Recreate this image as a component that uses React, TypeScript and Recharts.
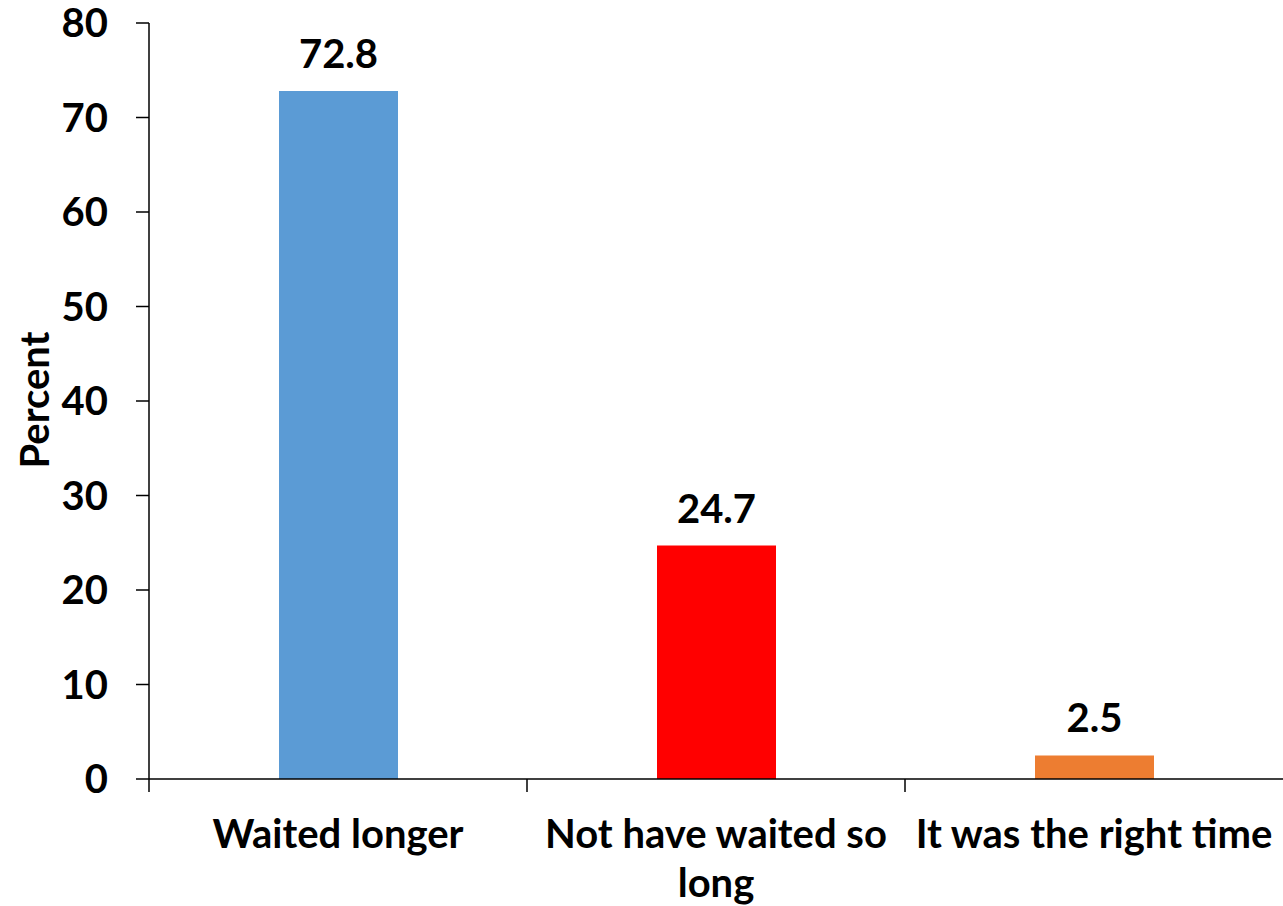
import { Bar, BarChart, Cell, LabelList, XAxis, YAxis } from "recharts";

const categories = ["Waited longer", "Not have waited so long", "It was the right time"];
// tick labels as they wrap in the original chart
const tickLabelLines = [["Waited longer"], ["Not have waited so", "long"], ["It was the right time"]];
const percents = [72.8, 24.7, 2.5];
const barColors = ["#5B9BD5", "#FF0000", "#ED7D31"];
const yTicks = [0, 10, 20, 30, 40, 50, 60, 70, 80];

const data = categories.map((name, i) => ({ name, value: percents[i] }));

const CHART_W = 1283;
const CHART_H = 906;
const Y_AXIS_W = 149;
const PLOT_W = CHART_W - Y_AXIS_W;
const FONT = "Lato, 'Open Sans', sans-serif";
const FONT_SIZE = 40;

const textStyle = { fontFamily: FONT, fontWeight: 700, fontSize: FONT_SIZE };

function CategoryTick(props: any) {
  const { x, y, index } = props;
  const band = PLOT_W / categories.length;
  const lines = tickLabelLines[index] ?? [props.payload.value];
  return (
    <g>
      <line x1={x - band / 2} x2={x - band / 2} y1={y} y2={y + 13} stroke="#000" strokeWidth={1.5} />
      <text x={x} y={y + 69} textAnchor="middle" fill="#000" style={textStyle}>
        {lines.map((line: string, i: number) => (
          <tspan key={i} x={x} dy={i === 0 ? 0 : 49}>
            {line}
          </tspan>
        ))}
      </text>
    </g>
  );
}

export default function App() {
  return (
    <div style={{ position: "absolute", left: 0, top: 0, background: "#fff" }}>
      <BarChart
        width={CHART_W}
        height={CHART_H}
        data={data}
        margin={{ top: 23, right: 0, bottom: 0, left: 0 }}
      >
        <XAxis
          dataKey="name"
          height={127}
          axisLine={{ stroke: "#000", strokeWidth: 1.5 }}
          tickLine={false}
          tickSize={0}
          tickMargin={0}
          interval={0}
          tick={<CategoryTick />}
        />
        <YAxis
          width={Y_AXIS_W}
          domain={[0, 80]}
          ticks={yTicks}
          interval={0}
          axisLine={{ stroke: "#000", strokeWidth: 1.5 }}
          tickLine={{ stroke: "#000", strokeWidth: 1.5 }}
          tickSize={13}
          tickMargin={28}
          tick={{ fill: "#000", ...textStyle }}
          label={{
            content: () => (
              <text
                x={34}
                y={400}
                transform="rotate(-90 34 400)"
                textAnchor="middle"
                dominantBaseline="central"
                fill="#000"
                style={textStyle}
              >
                Percent
              </text>
            ),
          }}
        />
        <Bar dataKey="value" barSize={119} isAnimationActive={false}>
          {data.map((d, i) => (
            <Cell key={d.name} fill={barColors[i]} />
          ))}
          <LabelList dataKey="value" position="top" offset={23} fill="#000" style={textStyle} />
        </Bar>
      </BarChart>
    </div>
  );
}
